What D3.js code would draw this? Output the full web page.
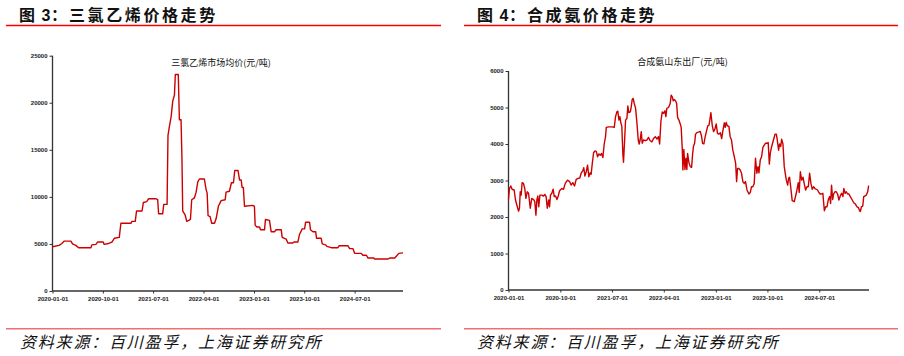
<!DOCTYPE html>
<html>
<head>
<meta charset="utf-8">
<script src="https://cdn.jsdelivr.net/npm/d3@7"></script>
<style>
html,body{margin:0;padding:0;background:#fff;}
svg{display:block;}
</style>
</head>
<body>
<svg id="chart" width="904" height="356"></svg>
<script>
// ---------- DATA ----------
const xTickLabels = ["2020-01-01","2020-10-01","2021-07-01","2022-04-01","2023-01-01","2023-10-01","2024-07-01"];
const xDomain = ["2020-01-01","2025-03-21"];

const panelFigNo = ["3","4"];
const panelTitles = ["三氯乙烯价格走势","合成氨价格走势"];
const seriesNames = ["三氯乙烯市场均价(元/吨)","合成氨山东出厂(元/吨)"];
const sourceText = "资料来源：百川盈孚，上海证券研究所";

const yTicksLeft = [0,5000,10000,15000,20000,25000];
const yTicksRight = [0,1000,2000,3000,4000,5000,6000];

const tceDates = ["2020-01-01","2020-02-06","2020-02-21","2020-03-05","2020-04-10","2020-04-19","2020-05-07","2020-05-22","2020-07-28","2020-08-02","2020-08-24","2020-09-02","2020-10-03","2020-10-08","2020-11-01","2020-11-19","2020-12-02","2020-12-29",
"2021-01-07","2021-03-03","2021-03-08","2021-03-26","2021-04-02","2021-05-02","2021-05-09","2021-05-27","2021-06-07","2021-07-17","2021-07-26","2021-07-31","2021-08-22","2021-08-28","2021-09-15","2021-09-20","2021-09-27","2021-10-07","2021-10-16","2021-10-25","2021-10-30","2021-11-15","2021-11-21","2021-11-30","2021-12-05","2021-12-09","2021-12-22","2021-12-31",
"2022-01-11","2022-01-20","2022-01-27","2022-02-11","2022-02-20","2022-03-01","2022-03-10","2022-04-06","2022-04-15","2022-04-21","2022-04-26","2022-05-07","2022-05-16","2022-05-31","2022-06-09","2022-06-21","2022-07-06","2022-07-28","2022-08-02","2022-08-20","2022-08-31","2022-09-11","2022-09-18","2022-10-06","2022-10-14","2022-10-23","2022-10-28","2022-11-04","2022-11-10","2022-12-25",
"2023-01-03","2023-01-07","2023-01-16","2023-01-31","2023-02-05","2023-02-27","2023-03-04","2023-03-26","2023-04-04","2023-04-22","2023-05-01","2023-05-29","2023-06-03","2023-06-25","2023-07-04","2023-07-31","2023-08-06","2023-08-27","2023-09-05","2023-09-20","2023-10-03","2023-10-08","2023-10-30","2023-11-04","2023-11-17","2023-12-02","2023-12-07",
"2024-01-01","2024-01-07","2024-01-25","2024-02-01","2024-02-25","2024-04-01","2024-04-07","2024-05-26","2024-06-04","2024-06-22","2024-07-01","2024-08-06","2024-08-15","2024-09-03","2024-09-12","2024-10-13","2024-10-18","2024-12-30",
"2025-01-08","2025-02-04","2025-02-13","2025-02-26","2025-03-21"];
const tceValues = [4700,4850,5050,5300,5300,5000,4850,4600,4600,4900,4950,5200,5200,4950,5050,5200,5600,5700,
7200,7200,7400,7400,8500,8500,9400,9500,9800,9800,9700,8200,8200,9200,9200,16500,17400,18500,20200,20800,23000,23000,18200,18200,14000,8500,8100,7400,
7500,7600,9700,9900,10500,11600,11900,11900,10800,10400,8000,7900,7200,7200,7700,9000,9600,9700,10500,10600,11500,11500,12800,12800,11800,11800,11000,11000,9000,9100,
9000,7000,6800,6800,6500,6500,7600,7500,6300,6300,6500,6500,5700,5500,5100,5100,5200,5200,6000,6600,6600,7300,7300,6500,6300,6300,5600,
5600,5000,4900,4750,4600,4600,4800,4800,4500,4500,4000,4000,3800,3800,3500,3500,3400,3400,
3500,3500,3700,4000,4050];

const nh3Dates = ["2020-01-01","2020-01-06","2020-01-13","2020-01-20","2020-01-31","2020-02-07","2020-02-14","2020-02-23","2020-02-28","2020-03-03","2020-03-08","2020-03-13","2020-03-20","2020-03-27","2020-04-02","2020-04-09","2020-04-16","2020-04-25","2020-05-03","2020-05-12","2020-05-19","2020-05-25","2020-05-30","2020-06-04","2020-06-09","2020-06-15","2020-06-25","2020-07-04","2020-07-11","2020-07-18","2020-07-24","2020-07-31","2020-08-05","2020-08-10","2020-08-17","2020-08-24","2020-08-30","2020-09-06","2020-09-13","2020-09-20","2020-09-27","2020-10-09","2020-10-18","2020-10-27","2020-11-08","2020-11-19","2020-11-27","2020-12-06","2020-12-15","2020-12-24",
"2021-01-03","2021-01-12","2021-01-19","2021-01-28","2021-02-02","2021-02-08","2021-02-15","2021-02-22","2021-03-01","2021-03-08","2021-03-13","2021-03-19","2021-03-26","2021-04-02","2021-04-09","2021-04-16","2021-04-23","2021-04-30","2021-05-07","2021-05-14","2021-05-21","2021-05-28","2021-06-01","2021-06-13","2021-07-01","2021-07-13","2021-07-20","2021-07-27","2021-08-01","2021-08-07","2021-08-12","2021-08-17","2021-08-22","2021-08-28","2021-08-31","2021-09-06","2021-09-11","2021-09-18","2021-09-23","2021-09-28","2021-10-06","2021-10-11","2021-10-16","2021-10-21","2021-10-27","2021-11-03","2021-11-10","2021-11-17","2021-11-22","2021-11-27","2021-12-03","2021-12-08","2021-12-15","2021-12-24",
"2022-01-02","2022-01-10","2022-01-19","2022-01-28","2022-02-06","2022-02-15","2022-02-24","2022-03-04","2022-03-10","2022-03-17","2022-03-24","2022-03-31","2022-04-07","2022-04-12","2022-04-17","2022-04-26","2022-05-05","2022-05-10","2022-05-16","2022-05-21","2022-05-26","2022-06-02","2022-06-08","2022-06-13","2022-06-20","2022-06-27","2022-07-02","2022-07-08","2022-07-11","2022-07-16","2022-07-22","2022-07-27","2022-08-01","2022-08-05","2022-08-12","2022-08-19","2022-08-26","2022-08-31","2022-09-05","2022-09-11","2022-09-16","2022-09-23","2022-10-04","2022-10-11","2022-10-18","2022-10-23","2022-10-30","2022-11-06","2022-11-11","2022-11-19","2022-11-26","2022-12-01","2022-12-06","2022-12-13","2022-12-20","2022-12-27",
"2023-01-03","2023-01-10","2023-01-17","2023-01-25","2023-02-01","2023-02-08","2023-02-15","2023-02-20","2023-02-25","2023-03-04","2023-03-11","2023-03-18","2023-03-25","2023-04-01","2023-04-09","2023-04-16","2023-04-21","2023-04-26","2023-05-03","2023-05-10","2023-05-17","2023-05-24","2023-05-31","2023-06-07","2023-06-15","2023-06-25","2023-07-02","2023-07-09","2023-07-16","2023-07-23","2023-07-30","2023-08-06","2023-08-12","2023-08-17","2023-08-24","2023-08-31","2023-09-07","2023-09-14","2023-09-21","2023-09-28","2023-10-05","2023-10-11","2023-10-16","2023-10-21","2023-10-27","2023-11-03","2023-11-10","2023-11-17","2023-11-22","2023-11-29","2023-12-04","2023-12-10","2023-12-15","2023-12-22","2023-12-29",
"2024-01-03","2024-01-09","2024-01-16","2024-01-21","2024-01-26","2024-02-02","2024-02-09","2024-02-20","2024-02-27","2024-03-05","2024-03-12","2024-03-17","2024-03-23","2024-03-30","2024-04-06","2024-04-13","2024-04-20","2024-04-27","2024-05-04","2024-05-11","2024-05-18","2024-05-25","2024-06-01","2024-06-08","2024-06-15","2024-06-22","2024-06-29","2024-07-06","2024-07-13","2024-07-20","2024-07-28","2024-08-04","2024-08-11","2024-08-18","2024-08-25","2024-08-30","2024-09-04","2024-09-10","2024-09-15","2024-09-22","2024-09-29","2024-10-06","2024-10-13","2024-10-20","2024-10-27","2024-11-03","2024-11-08","2024-11-15","2024-11-21","2024-11-28","2024-12-05","2024-12-12","2024-12-21","2024-12-30",
"2025-01-08","2025-01-16","2025-01-23","2025-01-29","2025-02-03","2025-02-09","2025-02-16","2025-02-21","2025-02-28","2025-03-07","2025-03-14","2025-03-19"];
const nh3Values = [2480,2780,2850,2760,2740,2465,2330,2160,2240,2690,2600,2940,2920,2780,2510,2690,2650,2240,2510,2480,2420,2050,2465,2575,2280,2600,2600,2575,2620,2560,2240,2465,2280,2600,2650,2760,2560,2575,2480,2575,2720,2780,2760,2920,3010,2970,2875,2940,2850,3030,
3060,3070,3200,3270,3350,3120,3240,3420,3100,3210,3170,3470,3760,3810,3800,3650,3730,3690,3740,3630,4000,4200,4455,4470,4470,4455,4750,4880,4900,4655,4750,4580,4490,3700,3500,4110,4655,4700,5040,4860,4880,5020,5220,5250,5110,4975,4580,4110,4000,4110,4340,4020,4110,4090,
4110,4180,4090,4060,4150,4200,4135,4200,4000,4630,4880,4840,4910,4750,4975,5000,5110,5340,5290,5185,5220,5185,5110,4730,4655,4550,4455,3830,3290,3850,3300,3610,3300,3740,3490,3380,3360,3700,3940,4020,4270,4310,4330,4345,4200,4020,4000,4200,4310,4490,4520,4675,4860,4520,4340,4400,
4550,4290,4270,4310,4150,4380,4580,4455,4590,4490,4490,4200,4110,3830,3650,3470,2970,3330,3330,3290,3200,2970,2920,2970,2740,2630,2670,2830,2830,2920,3610,3200,3380,3210,3560,3650,3910,3970,4020,4020,4040,3450,3740,3880,4000,4130,4270,4270,4110,3830,4000,3930,4130,4000,3380,
3200,3010,2875,3060,3090,2780,2450,2420,2575,2740,2940,2670,3240,3010,3090,2900,2740,2830,2830,3200,2920,2760,2830,2780,2760,2740,2670,2630,2630,2650,2170,2280,2280,2480,2560,2370,2870,2480,2630,2690,2690,2630,2465,2575,2650,2560,2780,2650,2690,2630,2630,2560,2480,2390,
2355,2280,2265,2190,2150,2280,2300,2560,2575,2600,2690,2860];

// ---------- DRAW ----------
const parse = d3.timeParse("%Y-%m-%d");
const svg = d3.select("#chart");
const CJK = "'Noto Sans CJK SC','Noto Sans',sans-serif";
const NUM = "'Liberation Sans',Arial,sans-serif";

const panels = [
  {x0:6, x1:441, titleX:19, srcX:20,
   plot:{left:52.5, right:403, top:55.7, bottom:291},
   seriesTitleX:221, seriesTitleY:63,
   dates:tceDates, values:tceValues, yTicks:yTicksLeft, yMax:25000},
  {x0:464, x1:898, titleX:477, srcX:477,
   plot:{left:508.5, right:869, top:71, bottom:290},
   seriesTitleX:682.5, seriesTitleY:62,
   dates:nh3Dates, values:nh3Values, yTicks:yTicksRight, yMax:6000}
];

panels.forEach((p,i)=>{
  const g = svg.append("g");
  // header: "图 N：title"
  const t = g.append("text").attr("y",21)
    .attr("font-family",CJK).attr("font-weight","bold").attr("font-size",16).attr("fill","#111");
  t.append("tspan").attr("x",p.titleX).text("图");
  t.append("tspan").attr("x",p.titleX+22.5).attr("font-family",NUM).text(panelFigNo[i]);
  t.append("tspan").attr("x",p.titleX+32).text("：");
  t.append("tspan").attr("x",p.titleX+50).attr("letter-spacing","2.6px").text(panelTitles[i]);
  g.append("line").attr("x1",p.x0).attr("x2",p.x1).attr("y1",25.5).attr("y2",25.5)
    .attr("stroke","#ff0000").attr("stroke-width",1.5);
  // footer
  g.append("line").attr("x1",p.x0).attr("x2",p.x1).attr("y1",328.7).attr("y2",328.7)
    .attr("stroke","#f07070").attr("stroke-width",1.5);
  g.append("text").attr("x",p.srcX).attr("y",348)
    .attr("font-family",CJK).attr("font-style","italic").attr("font-size",16)
    .attr("letter-spacing","1.8px").attr("fill","#111")
    .text(sourceText);

  const x = d3.scaleTime().domain(xDomain.map(parse)).range([p.plot.left,p.plot.right]);
  const y = d3.scaleLinear().domain([0,p.yMax]).range([p.plot.bottom,p.plot.top]);

  // series title
  g.append("text").attr("x",p.seriesTitleX).attr("y",p.seriesTitleY).attr("dy","0.35em")
    .attr("text-anchor","middle").attr("font-family",CJK).attr("font-size",9).attr("fill","#111")
    .text(seriesNames[i]);

  // axes
  const yAxis = d3.axisLeft(y).tickValues(p.yTicks).tickSize(3).tickPadding(2).tickFormat(d3.format("d"));
  const yg = g.append("g").attr("transform",`translate(${p.plot.left},0)`).call(yAxis);
  const xAxis = d3.axisBottom(x).tickValues(xTickLabels.map(parse)).tickSize(2.5).tickPadding(3)
    .tickFormat(d3.timeFormat("%Y-%m-%d"));
  const xg = g.append("g").attr("transform",`translate(0,${p.plot.bottom})`).call(xAxis);
  [yg,xg].forEach(a=>{
    a.select(".domain").attr("stroke","#333").attr("stroke-width",1.3);
    a.selectAll(".tick line").attr("stroke","#333").attr("stroke-width",1);
    a.selectAll(".tick text").attr("font-family",NUM).attr("font-weight","bold")
      .attr("font-size",6).attr("fill","#222");
  });
  xg.select(".domain").attr("d",`M${p.plot.left},0H${p.plot.right}`);
  yg.select(".domain").attr("d",`M0,${p.plot.top}V${p.plot.bottom}`);

  // line
  const data = p.dates.map((d,k)=>({d:parse(d), v:p.values[k]}));
  const line = d3.line().x(d=>x(d.d)).y(d=>y(d.v));
  g.append("path").datum(data).attr("d",line)
    .attr("fill","none").attr("stroke","#cc0000").attr("stroke-width",1.4)
    .attr("stroke-linejoin","round");
});
</script>
</body>
</html>
